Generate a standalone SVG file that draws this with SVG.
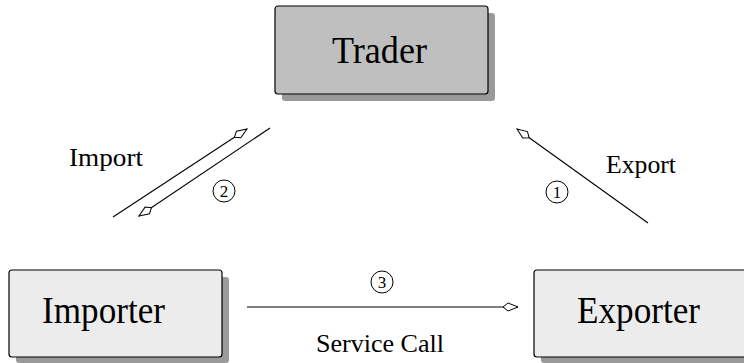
<svg xmlns="http://www.w3.org/2000/svg" width="744" height="363" viewBox="0 0 744 363">
<style>
.shadow{fill:#9a9a9a}
.box{stroke:#000;stroke-width:1.2}
.t{font-family:"Liberation Serif","Times New Roman",serif;fill:#000}
.big{font-size:38px}
.lbl{font-size:26px}
.num{font-size:17px;text-anchor:middle}
.ln{stroke:#000;stroke-width:1.1;fill:none}
.circ{fill:none;stroke:#000;stroke-width:1}
</style>
<defs>
<marker id="kite" markerUnits="userSpaceOnUse" markerWidth="20" markerHeight="12" viewBox="-17 -6 20 12" refX="0" refY="0" orient="auto">
<path d="M0,0 L-10,-4 L-15,0 L-10,4 Z" fill="#fff" stroke="#000" stroke-width="1"/>
</marker>
</defs>
<rect width="744" height="363" fill="#fff"/>
<g id="trader">
<rect class="shadow" x="282" y="13" width="213" height="88" rx="3"/>
<rect class="box" x="275" y="6" width="213" height="88" rx="3" fill="#bfbfbf"/>
<text class="t big" x="332" y="63" textLength="95" lengthAdjust="spacingAndGlyphs">Trader</text>
</g>
<g id="importer">
<rect class="shadow" x="16" y="277" width="213" height="86" rx="3"/>
<rect class="box" x="9" y="270" width="213" height="87" rx="3" fill="#ececec"/>
<text class="t big" x="42" y="323" textLength="123" lengthAdjust="spacingAndGlyphs">Importer</text>
</g>
<g id="exporter">
<rect class="shadow" x="541" y="277" width="213" height="86" rx="3"/>
<rect class="box" x="534" y="270" width="220" height="87" rx="3" fill="#ececec"/>
<text class="t big" x="577" y="323" textLength="123" lengthAdjust="spacingAndGlyphs">Exporter</text>
</g>
<g id="connectors">
<line class="ln" x1="113" y1="217" x2="247" y2="129" marker-end="url(#kite)"/>
<line class="ln" x1="270" y1="128" x2="139" y2="216" marker-end="url(#kite)"/>
<line class="ln" x1="648" y1="223" x2="517" y2="129" marker-end="url(#kite)"/>
<line class="ln" x1="247" y1="307" x2="518" y2="307" marker-end="url(#kite)"/>
<text class="t lbl" x="69" y="166" textLength="74" lengthAdjust="spacingAndGlyphs">Import</text>
<text class="t lbl" x="606" y="173" textLength="70" lengthAdjust="spacingAndGlyphs">Export</text>
<text class="t lbl" x="316" y="352" textLength="128" lengthAdjust="spacingAndGlyphs">Service Call</text>
<circle class="circ" cx="224" cy="191" r="11"/>
<text class="t num" x="224" y="197">2</text>
<circle class="circ" cx="557" cy="192" r="11"/>
<text class="t num" x="557" y="198">1</text>
<circle class="circ" cx="382" cy="282" r="11"/>
<text class="t num" x="382" y="288">3</text>
</g>
</svg>
